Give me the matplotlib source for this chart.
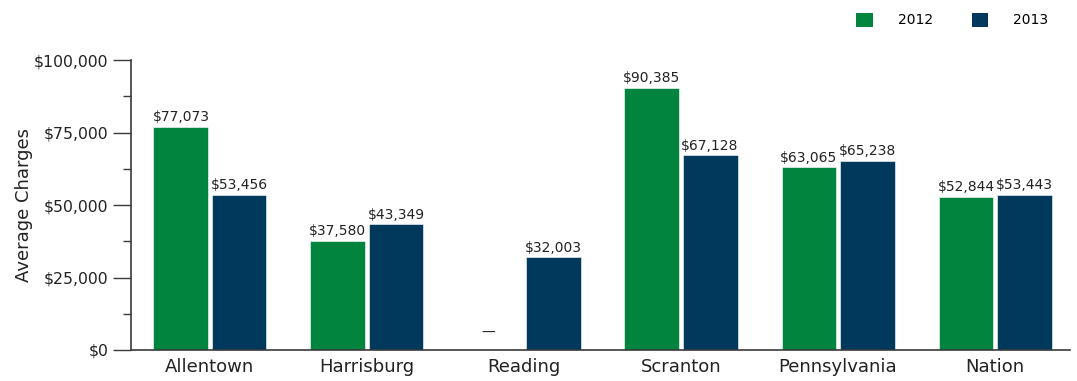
import matplotlib

matplotlib.use("Agg")
import matplotlib.pyplot as plt  # noqa: E402
import numpy as np  # noqa: E402
from matplotlib.patches import Patch  # noqa: E402
from matplotlib.ticker import FuncFormatter, MultipleLocator  # noqa: E402

categories = ["Allentown", "Harrisburg", "Reading", "Scranton", "Pennsylvania", "Nation"]
charges_2012 = [77073, 37580, None, 90385, 63065, 52844]
charges_2013 = [53456, 43349, 32003, 67128, 65238, 53443]
years = ["2012", "2013"]

GREEN = "#00843E"
NAVY = "#00395C"
AXIS = "#3a3a3a"
TEXT = "#222222"

plt.rcParams["font.family"] = ["DejaVu Sans"]


def fmt_dollars(v, _pos=None):
    return f"${v:,.0f}"


def plot_charges(output_path):
    fig = plt.figure(figsize=(10.77, 3.81), dpi=100)
    ax = fig.add_axes([0.1216, 0.0814, 0.872, 0.761])

    x = np.arange(len(categories))
    width = 0.35
    offset = 0.185

    for vals, color, shift in [(charges_2012, GREEN, -offset), (charges_2013, NAVY, offset)]:
        for xi, v in zip(x, vals):
            if v is None:
                # no reported value: a dash sits where the label would be
                ax.text(xi + shift - 0.04, 3500, "\u2014", ha="center", va="bottom",
                        fontsize=10, color=TEXT)
                continue
            ax.bar(xi + shift, v, width=width, color=color, edgecolor="white", linewidth=0.4)
            ax.text(xi + shift, v + 900, fmt_dollars(v), ha="center", va="bottom",
                    fontsize=10, color=TEXT)

    ax.set_xlim(-0.503, 5.478)
    ax.set_ylim(0, 100000)
    ax.set_xticks(x)
    ax.set_xticklabels(categories, fontsize=13, color=TEXT)
    ax.tick_params(axis="x", length=0, pad=6)

    ax.yaxis.set_major_locator(MultipleLocator(25000))
    ax.yaxis.set_minor_locator(MultipleLocator(12500))
    ax.yaxis.set_major_formatter(FuncFormatter(fmt_dollars))
    ax.tick_params(axis="y", which="major", length=13, width=1, color=AXIS,
                   labelsize=11.3, labelcolor=TEXT, pad=3)
    ax.tick_params(axis="y", which="minor", length=6, width=1, color=AXIS)
    ax.set_ylabel("Average Charges", fontsize=13, color=TEXT, labelpad=1)

    for side in ["top", "right"]:
        ax.spines[side].set_visible(False)
    for side in ["left", "bottom"]:
        ax.spines[side].set_color(AXIS)
        ax.spines[side].set_linewidth(1.2)

    handles = [Patch(facecolor=GREEN), Patch(facecolor=NAVY)]
    fig.legend(handles, years, loc="upper right", bbox_to_anchor=(0.985, 1.0), ncol=2,
               frameon=False, fontsize=10, handlelength=1.2, handleheight=1.2,
               handletextpad=1.8, columnspacing=2.8)

    fig.savefig(output_path, dpi=100)


if __name__ == "__main__":
    plot_charges("out.png")
